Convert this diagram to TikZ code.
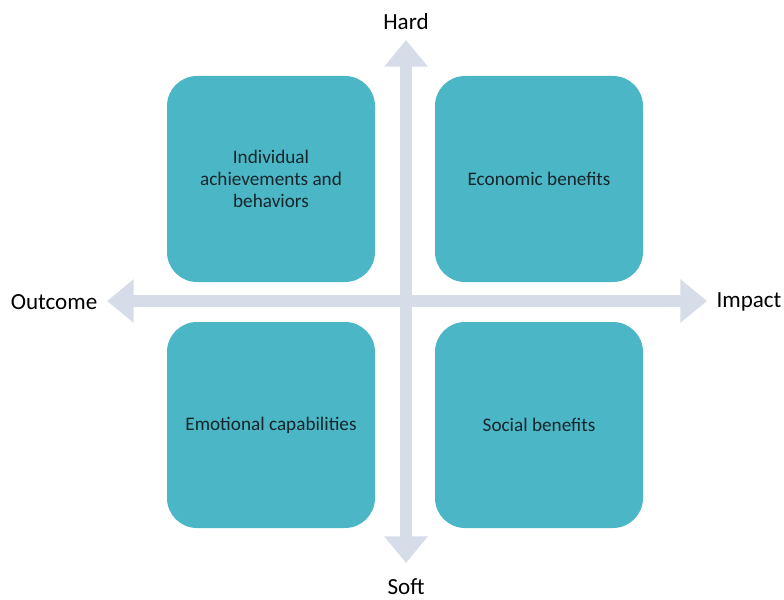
\documentclass[tikz,border=0pt]{standalone}
\usepackage{fontspec}
\setmainfont{Carlito}
\usetikzlibrary{arrows.meta}
\definecolor{quadteal}{HTML}{4AB6C6}
\definecolor{axisgrey}{HTML}{D6DCE8}
\definecolor{quadtext}{HTML}{16262A}

\begin{document}
\begin{tikzpicture}[x=0.75pt,y=-0.75pt,
	quad/.style={fill=quadteal, rounded corners=22.5pt, inner sep=0pt,
		minimum width=156pt, minimum height=154.5pt, align=center,
		text=quadtext, font=\fontsize{14.4}{16.5}\selectfont},
	axislabel/.style={font=\fontsize{17.3}{20}\selectfont, text=black, inner sep=0pt},
	axis/.style={draw=axisgrey, line width=9pt,
		{Triangle[width=31.5pt,length=20pt]}-{Triangle[width=31.5pt,length=20pt]}}]
	%%%%% START %%%%%
	
	\useasboundingbox (0,0) rectangle (784,599);
	
	% axis ends
	\coordinate (hardend) at (406,40);
	\coordinate (softend) at (406,563);
	\coordinate (outcomeend) at (107,301);
	\coordinate (impactend) at (707,301);
	
	\draw[axis] (softend) -- (hardend);
	\draw[axis] (outcomeend) -- (impactend);
	
	% axis labels
	\node[axislabel] (hard) at (406,22) {Hard};
	\node[axislabel] (soft) at (406,587) {Soft};
	\node[axislabel] (outcome) at (54,302) {Outcome};
	\node[axislabel] (impact) at (749,302) {Impact};
	
	% quadrants
	\node[quad] (individual) at (271,179) {Individual\\achievements and\\behaviors};
	\node[quad] (economic) at (539,179) {Economic benefits};
	\node[quad] (emotional) at (271,425) {Emotional capabilities};
	\node[quad] (social) at (539,425) {Social benefits};
	
	%%%%% END %%%%%
\end{tikzpicture}
\end{document}
